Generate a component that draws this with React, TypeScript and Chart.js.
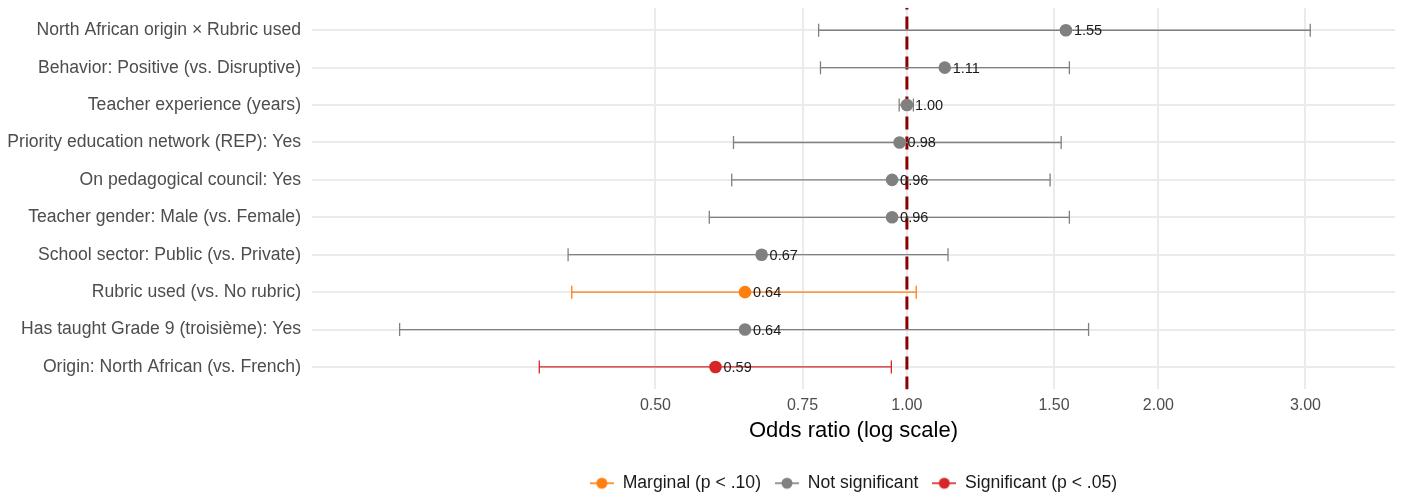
import React, { useEffect, useRef } from "react";
import { Chart, registerables } from "chart.js";

Chart.register(...registerables);

// ---- Data (top row first) ----
const terms = [
  "North African origin × Rubric used",
  "Behavior: Positive (vs. Disruptive)",
  "Teacher experience (years)",
  "Priority education network (REP): Yes",
  "On pedagogical council: Yes",
  "Teacher gender: Male (vs. Female)",
  "School sector: Public (vs. Private)",
  "Rubric used (vs. No rubric)",
  "Has taught Grade 9 (troisième): Yes",
  "Origin: North African (vs. French)",
];
const oddsRatios = [1.55, 1.11, 1.0, 0.98, 0.96, 0.96, 0.67, 0.64, 0.64, 0.59];
const ciLower = [0.784, 0.788, 0.979, 0.62, 0.617, 0.58, 0.393, 0.397, 0.247, 0.363];
const ciUpper = [3.04, 1.565, 1.018, 1.53, 1.484, 1.565, 1.12, 1.026, 1.65, 0.958];
const significance = [
  "Not significant",
  "Not significant",
  "Not significant",
  "Not significant",
  "Not significant",
  "Not significant",
  "Not significant",
  "Marginal (p < .10)",
  "Not significant",
  "Significant (p < .05)",
];
const groups = ["Marginal (p < .10)", "Not significant", "Significant (p < .05)"];
const groupColors = ["#FF7F0E", "#808080", "#D62728"];
const xTicks = [0.5, 0.75, 1, 1.5, 2, 3];
const xMin = 0.194;
const xMax = 3.84;
const referenceOR = 1;
const axisTitle = "Odds ratio (log scale)";

const FONT = "'Liberation Sans', Arial, Helvetica, sans-serif";

export default function App() {
  const ref = useRef<HTMLCanvasElement>(null);

  useEffect(() => {
    document.body.style.margin = "0";
    const n = terms.length;
    const yMin = 0.4;
    const yMax = n + 0.6;
    const rowY = (i: number) => n - i;
    const colorOf = (g: string) => groupColors[groups.indexOf(g)];

    const icons = groupColors.map((c) => {
      const cv = document.createElement("canvas");
      cv.width = 24;
      cv.height = 14;
      const g = cv.getContext("2d")!;
      g.strokeStyle = c;
      g.lineWidth = 1.6;
      g.beginPath();
      g.moveTo(0, 7);
      g.lineTo(24, 7);
      g.stroke();
      g.fillStyle = c;
      g.beginPath();
      g.arc(12, 7, 5.5, 0, Math.PI * 2);
      g.fill();
      return cv;
    });

    const pointSets = groups.map((g, gi) => ({
      label: g,
      data: terms
        .map((_, i) => ({ x: oddsRatios[i], y: rowY(i), g: significance[i] }))
        .filter((d) => d.g === g)
        .map((d) => ({ x: d.x, y: d.y })),
      backgroundColor: groupColors[gi],
      borderColor: groupColors[gi],
      pointRadius: 6.3,
      pointHoverRadius: 6.3,
      pointBorderWidth: 0,
      showLine: false,
    }));

    const barSets = terms.map((_, i) => {
      const c = colorOf(significance[i]);
      return {
        label: "ci-" + i,
        data: [
          { x: ciLower[i], y: rowY(i) },
          { x: ciUpper[i], y: rowY(i) },
        ],
        showLine: true,
        borderColor: c,
        borderWidth: 1.3,
        pointStyle: "line",
        pointRotation: 90,
        pointRadius: 6.5,
        pointHoverRadius: 6.5,
        pointBorderColor: c,
        pointBackgroundColor: c,
        pointBorderWidth: 1.3,
      };
    });

    const refSet = {
      label: "ref",
      data: [
        { x: referenceOR, y: yMin },
        { x: referenceOR, y: yMax },
      ],
      showLine: true,
      borderColor: "#8B0000",
      borderWidth: 3,
      borderDash: [13, 7],
      pointRadius: 0,
      pointHoverRadius: 0,
    };

    const valueLabels = {
      id: "valueLabels",
      afterDatasetsDraw(chart: any) {
        const { ctx } = chart;
        const xs = chart.scales.x;
        const ys = chart.scales.y;
        ctx.save();
        ctx.font = `14.5px ${FONT}`;
        ctx.fillStyle = "#1a1a1a";
        ctx.textAlign = "left";
        ctx.textBaseline = "middle";
        terms.forEach((_, i) => {
          ctx.fillText(
            oddsRatios[i].toFixed(2),
            xs.getPixelForValue(oddsRatios[i]) + 8,
            ys.getPixelForValue(rowY(i)) + 1
          );
        });
        ctx.restore();
      },
    };

    const chart = new Chart(ref.current!, {
      type: "scatter",
      data: { datasets: [...pointSets, ...barSets, refSet] as any },
      options: {
        responsive: false,
        animation: false,
        devicePixelRatio: 1,
        events: [],
        layout: { padding: { left: 0, right: 8, top: 7, bottom: -5 } },
        plugins: {
          tooltip: { enabled: false },
          legend: {
            position: "bottom",
            fullSize: false,
            labels: {
              usePointStyle: true,
              pointStyleWidth: 24,
              padding: 14,
              color: "#1a1a1a",
              font: { size: 17.6, family: FONT },
              generateLabels: () =>
                groups.map((g, gi) => ({
                  text: g,
                  pointStyle: icons[gi],
                  fillStyle: groupColors[gi],
                  strokeStyle: groupColors[gi],
                  lineWidth: 0,
                  hidden: false,
                  datasetIndex: gi,
                  fontColor: "#1a1a1a",
                })) as any,
            },
          },
        },
        scales: {
          x: {
            type: "logarithmic",
            min: xMin,
            max: xMax,
            afterBuildTicks: (s: any) => {
              s.ticks = xTicks.map((v) => ({ value: v }));
            },
            afterFit: (s: any) => {
              s.height = 71;
              s.paddingLeft = 0;
              s.paddingRight = 0;
            },
            grid: { color: "#EBEBEB", lineWidth: 2, drawTicks: false },
            border: { display: false },
            ticks: {
              autoSkip: false,
              maxRotation: 0,
              padding: 7,
              color: "#4D4D4D",
              font: { size: 16, family: FONT },
              callback: (v: any) => Number(v).toFixed(2),
            },
            title: {
              display: true,
              text: axisTitle,
              color: "#000000",
              font: { size: 22, family: FONT },
              padding: { top: 0, bottom: 16 },
            },
          },
          y: {
            type: "linear",
            min: yMin,
            max: yMax,
            afterBuildTicks: (s: any) => {
              s.ticks = terms.map((_, i) => ({ value: rowY(i) }));
            },
            afterFit: (s: any) => {
              s.width = 312;
              s.paddingTop = 0;
              s.paddingBottom = 0;
            },
            grid: { color: "#EBEBEB", lineWidth: 2, drawTicks: false },
            border: { display: false },
            ticks: {
              autoSkip: false,
              padding: 11,
              color: "#4D4D4D",
              font: { size: 17.6, family: FONT },
              callback: (v: any) => terms[n - Number(v)] ?? "",
            },
          },
        },
      },
      plugins: [valueLabels],
    });

    return () => chart.destroy();
  }, []);

  return (
    <div style={{ width: 1403, height: 497 }}>
      <canvas ref={ref} width={1403} height={497} style={{ display: "block" }} />
    </div>
  );
}
